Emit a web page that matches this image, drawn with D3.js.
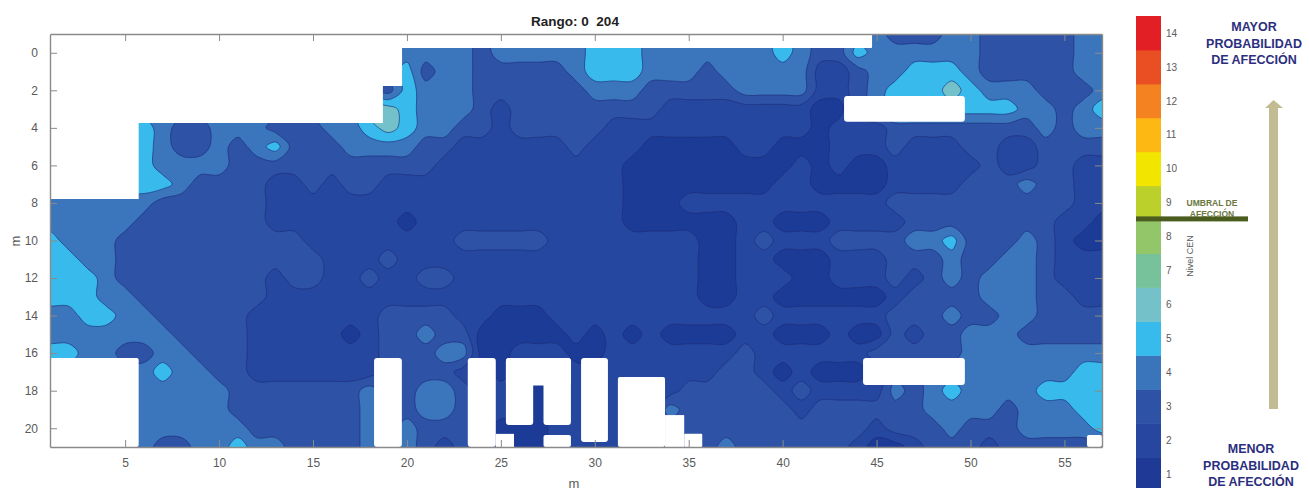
<!DOCTYPE html>
<html>
<head>
<meta charset="utf-8">
<script src="https://cdn.jsdelivr.net/npm/d3@7"></script>
<style>
  html, body { margin: 0; padding: 0; background: #fff; }
  svg { display: block; }
</style>
</head>
<body>
<div id="wrapper"></div>
<script>
var width = 1309
var height = 488

// CEN level, one row per metre (y = -1 .. 21), x = 1 .. 57
var cenRows = [
  "4444444444 4444444444 4443444445 5544444445 4334433344 3333344",
  "4444444444 4444444444 4443444445 5544444445 4335444444 3333344",
  "4444444444 4444444445 3443333345 5544434444 4223445554 3333344",
  "4444444444 4444444435 4443333334 4433333444 4223455565 4443334",
  "4444444444 4444444665 4443233333 3332222222 2113455555 5544345",
  "4444554334 4433344565 4433233333 2222222222 2122233333 3334344",
  "4445554334 3453334444 3322222232 2211111221 1122232223 3223333",
  "4445554444 3333333333 3222222222 2111111111 2121122222 3223322",
  "4445555433 3322323322 2222222222 2111111112 2111122223 3343322",
  "4444443333 3322222222 2222222222 2111222222 2222233333 3333322",
  "4444433333 3322222221 2222222222 2111111221 1122223333 3333221",
  "5444333333 3333222222 2233333222 2222211232 2233334453 3343211",
  "5544333333 3333322232 2222222222 2222211221 1122233343 3443222",
  "5554333333 3323322322 3322222222 2222211222 1122232343 4443222",
  "5554433333 3322222222 2222222222 2222211221 1111123333 4443322",
  "4455443333 3222222233 3322111222 2222222232 2222233343 3443333",
  "4444444333 3222221233 4331111121 2121111221 1121132334 4433333",
  "5544334433 3222222233 3441122211 2222222322 2222333334 4444444",
  "4444445443 3222222233 3322122222 2222223321 2111233444 4444455",
  "4444444444 3333333433 4432221222 2222333332 3222243454 4445555",
  "4444444444 3333333433 4432221222 2224333333 2333333444 4344455",
  "4444444444 4333333434 3332111222 2223333333 3333233343 3344445",
  "4444443344 5443333434 3232211222 2222234333 3332112333 2333333"
]
var gridX0 = 1
var gridY0 = -1

var xTicks = [5, 10, 15, 20, 25, 30, 35, 40, 45, 50, 55]
var yTicks = [0, 2, 4, 6, 8, 10, 12, 14, 16, 18, 20]

// colour of each CEN level on the bar, 1 .. 14
var cenLevels = [1, 2, 3, 4, 5, 6, 7, 8, 9, 10, 11, 12, 13, 14]
var cenColors = ["#1f3a96", "#27469f", "#2d52a6", "#3a74bb", "#37bbec", "#74c1c9", "#77c29b", "#93c569",
                 "#bcd02c", "#f2e500", "#fdb813", "#f58220", "#ea4f24", "#e31f26"]
var mapThresholds = [1.5, 2.5, 3.5, 4.5, 5.5]

// areas without measurements, in metres: x0, x1, y0, y1, corner radius
var noData = [
  [1, 44.76, -1, -0.25, 1],
  [1, 19.74, -1, 1.77, 0],
  [1, 18.72, -1, 3.74, 0],
  [1, 5.72, -1, 7.79, 0],
  [1, 5.72, 16.26, 21, 2],
  [18.25, 19.73, 16.26, 21, 3],
  [23.24, 24.73, 16.26, 21, 3],
  [24.73, 25.7, 20.3, 21, 0],
  [25.27, 28.73, 16.26, 17.72, 3],
  [25.27, 26.72, 16.26, 19.83, 3],
  [27.27, 28.73, 16.26, 19.83, 3],
  [27.27, 28.73, 20.36, 21, 2],
  [29.27, 30.7, 16.26, 20.73, 3],
  [31.23, 33.74, 17.27, 21, 2],
  [33.74, 34.76, 19.3, 21, 0],
  [34.76, 35.72, 20.3, 21, 1],
  [56.2, 57, 20.36, 21, 2],
  [43.27, 49.7, 2.3, 3.68, 3],
  [44.28, 49.7, 16.26, 17.7, 3]
]

var svg = d3.select("#wrapper").append("svg")
    .attr("width", width)
    .attr("height", height)
    .style("font-family", "'Liberation Sans', Arial, sans-serif")

var defs = svg.append("defs")
defs.append("clipPath").attr("id", "plot-clip").append("rect")
    .attr("x", 50).attr("y", 34).attr("width", 1052).attr("height", 413)
defs.append("filter").attr("id", "soft").append("feGaussianBlur").attr("stdDeviation", 0.6)

var x = d3.scaleLinear().domain([1, 57]).range([50, 1102])
var y = d3.scaleLinear().domain([-1, 21]).range([34, 447])

// parse the rows, repeat the edges twice so rings close outside the clip
var rows = cenRows.map(r => r.replace(/ /g, "").split("").map(Number))
var pad = 2
var nx = rows[0].length + pad * 2
var ny = rows.length + pad * 2
var values = []
for (var j = 0; j < ny; j++) {
    var row = rows[Math.max(0, Math.min(rows.length - 1, j - pad))]
    for (var i = 0; i < nx; i++) {
        values.push(row[Math.max(0, Math.min(row.length - 1, i - pad))])
    }
}

var contours = d3.contours().size([nx, ny]).thresholds(mapThresholds)(values)

var ringLine = d3.line()
    .x(d => x(d[0] - 0.5 - pad + gridX0))
    .y(d => y(d[1] - 0.5 - pad + gridY0))
    .curve(d3.curveCatmullRomClosed.alpha(0.5))

function contourPath(c) {
    var out = ""
    c.coordinates.forEach(poly => poly.forEach(ring => {
        out += ringLine(ring.slice(0, -1))
    }))
    return out
}

var plot = svg.append("g").attr("clip-path", "url(#plot-clip)")
var soft = plot.append("g").attr("filter", "url(#soft)")

soft.append("rect")
    .attr("x", x(1)).attr("y", y(-1))
    .attr("width", x(57) - x(1)).attr("height", y(21) - y(-1))
    .attr("fill", cenColors[0])

soft.selectAll("path.band")
    .data(contours)
    .join("path")
    .attr("class", "band")
    .attr("d", contourPath)
    .attr("fill", d => cenColors[Math.ceil(d.value) - 1])
    .attr("fill-rule", "evenodd")
    .attr("stroke", "#1c2c78")
    .attr("stroke-width", 0.8)
    .attr("stroke-opacity", 0.8)

soft.selectAll("rect.nodata")
    .data(noData)
    .join("rect")
    .attr("class", "nodata")
    .attr("x", d => x(d[0]))
    .attr("y", d => y(d[2]))
    .attr("width", d => x(d[1]) - x(d[0]))
    .attr("height", d => y(d[3]) - y(d[2]))
    .attr("rx", d => d[4])
    .attr("fill", "#fff")

// axes, ticks point inside the box on all four sides
function styleAxis(g) {
    g.selectAll("path").attr("stroke", "#8a8a8a").attr("stroke-width", 1.4)
    g.selectAll("line").attr("stroke", "#8a8a8a")
    g.selectAll("text")
        .attr("fill", "#5a5a5a")
        .style("font-family", "'Liberation Sans', Arial, sans-serif")
        .style("font-size", "12px")
}

svg.append("g").attr("transform", `translate(0,${y(21)})`)
    .call(d3.axisBottom(x).tickValues(xTicks).tickSize(-7).tickSizeOuter(0).tickPadding(11))
    .call(styleAxis)
svg.append("g").attr("transform", `translate(0,${y(-1)})`)
    .call(d3.axisTop(x).tickValues(xTicks).tickSize(-7).tickSizeOuter(0).tickFormat(""))
    .call(styleAxis)
svg.append("g").attr("transform", `translate(${x(1)},0)`)
    .call(d3.axisLeft(y).tickValues(yTicks).tickSize(-7).tickSizeOuter(0).tickPadding(12))
    .call(styleAxis)
svg.append("g").attr("transform", `translate(${x(57)},0)`)
    .call(d3.axisRight(y).tickValues(yTicks).tickSize(-7).tickSizeOuter(0).tickFormat(""))
    .call(styleAxis)

svg.append("text")
    .attr("x", 575).attr("y", 26)
    .attr("text-anchor", "middle")
    .attr("font-size", 13.5)
    .attr("font-weight", "bold")
    .attr("fill", "#222")
    .attr("xml:space", "preserve")
    .style("white-space", "pre")
    .text("Rango: 0  204")

svg.append("text")
    .attr("x", 574).attr("y", 488)
    .attr("text-anchor", "middle")
    .attr("font-size", 13)
    .attr("fill", "#5a5a5a")
    .text("m")

svg.append("text")
    .attr("transform", "translate(20,241) rotate(-90)")
    .attr("text-anchor", "middle")
    .attr("font-size", 13)
    .attr("fill", "#5a5a5a")
    .text("m")

// colour bar
var barY = d3.scaleLinear().domain([0.5, 14.5]).range([491, 16])
var barAxisG = svg.append("g")

barAxisG.selectAll("rect")
    .data(cenLevels)
    .join("rect")
    .attr("x", 1136)
    .attr("y", d => barY(d + 0.5))
    .attr("width", 25)
    .attr("height", d => barY(d - 0.5) - barY(d + 0.5) + 0.5)
    .attr("fill", (d, i) => cenColors[i])

var barAxis = svg.append("g").attr("transform", "translate(1161,0)")
    .call(d3.axisRight(barY).tickValues(cenLevels).tickSize(0).tickPadding(5))
barAxis.select("path").remove()
barAxis.selectAll("text")
    .attr("fill", "#5a5a5a")
    .style("font-family", "'Liberation Sans', Arial, sans-serif")
    .style("font-size", "10px")

// threshold mark and side notes
svg.append("rect")
    .attr("x", 1136).attr("y", barY(8.52) - 2.5)
    .attr("width", 112).attr("height", 5)
    .attr("fill", "#4a5c1e")

svg.selectAll("text.umbral")
    .data(["UMBRAL DE", "AFECCIÓN"])
    .join("text")
    .attr("class", "umbral")
    .attr("x", 1212)
    .attr("y", (d, i) => 206 + i * 11)
    .attr("text-anchor", "middle")
    .attr("font-size", 8.5)
    .attr("font-weight", "bold")
    .attr("fill", "#6a7740")
    .text(d => d)

svg.append("text")
    .attr("transform", "translate(1193,256) rotate(-90)")
    .attr("text-anchor", "middle")
    .attr("font-size", 9)
    .attr("fill", "#5a5a5a")
    .text("Nivel CEN")

svg.selectAll("text.mayor")
    .data(["MAYOR", "PROBABILIDAD", "DE AFECCIÓN"])
    .join("text")
    .attr("class", "mayor")
    .attr("x", 1254)
    .attr("y", (d, i) => 31 + i * 16.5)
    .attr("text-anchor", "middle")
    .attr("font-size", 12.5)
    .attr("font-weight", "bold")
    .attr("fill", "#2b2e7e")
    .text(d => d)

svg.selectAll("text.menor")
    .data(["MENOR", "PROBABILIDAD", "DE AFECCIÓN"])
    .join("text")
    .attr("class", "menor")
    .attr("x", 1251)
    .attr("y", (d, i) => 453 + i * 16.5)
    .attr("text-anchor", "middle")
    .attr("font-size", 12.5)
    .attr("font-weight", "bold")
    .attr("fill", "#2b2e7e")
    .text(d => d)

// arrow
svg.append("path")
    .attr("d", "M1269,409 V108 H1265 L1273.5,100 L1283,108 H1278 V409 Z")
    .attr("fill", "#c3bb91")
</script>
</body>
</html>
